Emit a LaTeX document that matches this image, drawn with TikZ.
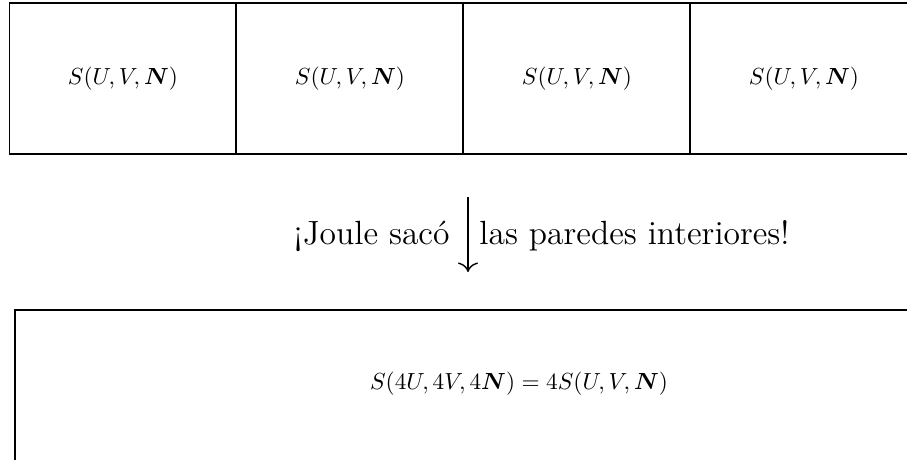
\documentclass[tikz,border=0pt]{standalone}
\usepackage{amsmath,bm}
\usetikzlibrary{arrows.meta}
\begin{document}
\begin{tikzpicture}[x=0.429pt,y=-0.429pt,
  wall/.style={draw=black,line width=0.85pt},
  lbl/.style={inner sep=0pt,font=\Large}]
\useasboundingbox (0,0) rectangle (907,460);
\begin{scope}
\clip (0,0) rectangle (907,460);
% top boxes
\draw[wall] (9.5,3.3) rectangle (917,153.7);
\draw[wall] (236,3.3) -- (236,153.7);
\draw[wall] (463,3.3) -- (463,153.7);
\draw[wall] (690,3.3) -- (690,153.7);
\node (s1) at (123,78.5) {$S(U,V,\bm{N})$};
\node (s2) at (350,78.5) {$S(U,V,\bm{N})$};
\node (s3) at (577,78.5) {$S(U,V,\bm{N})$};
\node (s4) at (804,78.5) {$S(U,V,\bm{N})$};
% arrow
\coordinate (a1) at (468,197);
\coordinate (a2) at (468,272);
\draw[line width=0.6pt,-{To[scale=1.4]}] (a1) -- (a2);
\node[lbl,anchor=base east] (l1) at (450,245) {¡Joule sacó};
\node[lbl,anchor=base west] (l2) at (479,245) {las paredes interiores!};
% bottom box
\draw[wall] (14.7,310) rectangle (1030,470);
\node (s5) at (519,384) {$S(4U,4V,4\bm{N}) = 4S(U,V,\bm{N})$};
\end{scope}
\end{tikzpicture}
\end{document}
